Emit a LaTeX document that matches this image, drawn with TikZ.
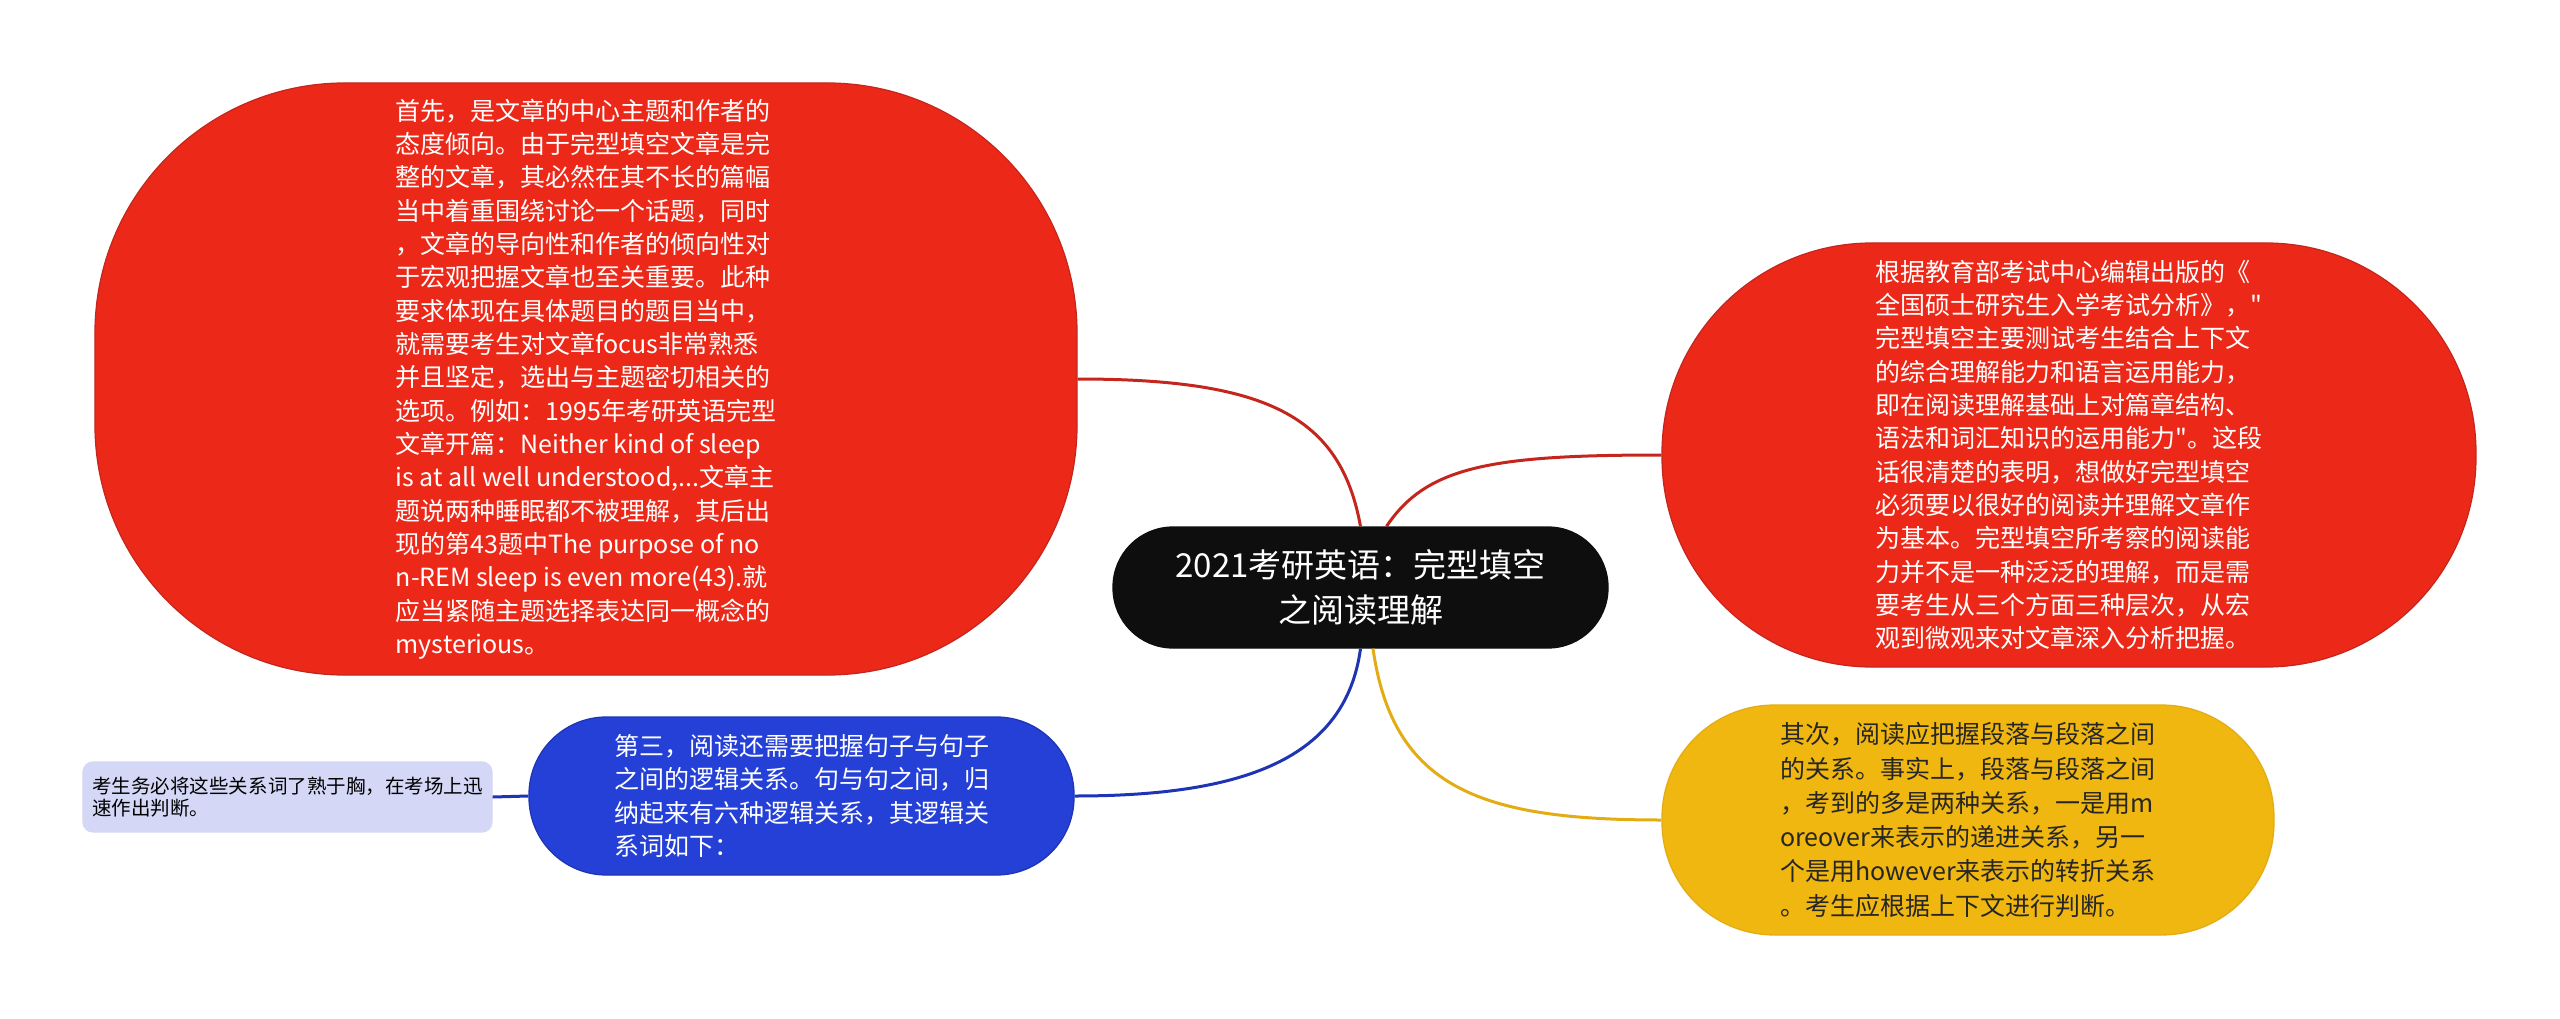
\documentclass[tikz,border=0pt]{standalone}
\usepackage{fontspec}
\setmainfont{Noto Sans CJK SC}
\definecolor{redfill}{RGB}{236,41,25}
\definecolor{redline}{RGB}{196,38,30}
\definecolor{bluefill}{RGB}{36,64,214}
\definecolor{blueline}{RGB}{30,52,180}
\definecolor{yelfill}{RGB}{240,183,16}
\definecolor{yelline}{RGB}{228,172,20}
\definecolor{lavfill}{RGB}{212,216,246}
\definecolor{centfill}{RGB}{14,14,14}
\font\plainqfont="Noto Sans CJK SC" at 10pt
\newcommand{\dq}{{\plainqfont\char34}}
\tikzset{
  bubble/.style={draw, rectangle, inner sep=0pt, line width=0.5pt},
  bodytext/.style={align=left, font=\fontsize{10pt}{13.33pt}\selectfont},
  conn/.style={line width=1.2pt},
}
\begin{document}
\begin{tikzpicture}[x=0.4pt,y=-0.4pt]
\useasboundingbox (0,0) rectangle (2560,1019);

% central node
\node[bubble, fill=centfill, draw=centfill, text=white, rounded corners=24pt,
      minimum width=198pt, minimum height=48.4pt, align=center,
      font=\fontsize{13.2pt}{18pt}\selectfont] (C) at (1360.5,587.5)
  {2021考研英语：完型填空\\之阅读理解};

% left red
\node[bubble, bodytext, fill=redfill, draw=redline, text=white, rounded corners=100pt,
      minimum width=392.8pt, minimum height=236.8pt] (L) at (586,379)
  {首先，是文章的中心主题和作者的\\
   态度倾向。由于完型填空文章是完\\
   整的文章，其必然在其不长的篇幅\\
   当中着重围绕讨论一个话题，同时\\
   ，文章的导向性和作者的倾向性对\\
   于宏观把握文章也至关重要。此种\\
   要求体现在具体题目的题目当中，\\
   就需要考生对文章focus非常熟悉\\
   并且坚定，选出与主题密切相关的\\
   选项。例如：1995年考研英语完型\\
   文章开篇：Neither kind of sleep\\
   is at all well understood,...文章主\\
   题说两种睡眠都不被理解，其后出\\
   现的第43题中The purpose of no\\
   n-REM sleep is even more(43).就\\
   应当紧随主题选择表达同一概念的\\
   mysterious。};

% right red
\node[bubble, bodytext, fill=redfill, draw=redline, text=white, rounded corners=84pt,
      minimum width=325.6pt, minimum height=169.6pt] (R) at (2069,455)
  {根据教育部考试中心编辑出版的《\\
   全国硕士研究生入学考试分析》，\dq\\
   完型填空主要测试考生结合上下文\\
   的综合理解能力和语言运用能力，\\
   即在阅读理解基础上对篇章结构、\\
   语法和词汇知识的运用能力\dq。这段\\
   话很清楚的表明，想做好完型填空\\
   必须要以很好的阅读并理解文章作\\
   为基本。完型填空所考察的阅读能\\
   力并不是一种泛泛的理解，而是需\\
   要考生从三个方面三种层次，从宏\\
   观到微观来对文章深入分析把握。};

% yellow
\node[bubble, align=left, font=\fontsize{10pt}{13.7pt}\selectfont,
      fill=yelfill, draw=yelline, text=black!85, rounded corners=45pt,
      minimum width=244.8pt, minimum height=92pt] (Y) at (1968,820)
  {其次，阅读应把握段落与段落之间\\
   的关系。事实上，段落与段落之间\\
   ，考到的多是两种关系，一是用m\\
   oreover来表示的递进关系，另一\\
   个是用however来表示的转折关系\\
   。考生应根据上下文进行判断。};

% blue
\node[bubble, bodytext, fill=bluefill, draw=blueline, text=white, rounded corners=31pt,
      minimum width=218pt, minimum height=63.2pt] (B) at (801.5,796)
  {第三，阅读还需要把握句子与句子\\
   之间的逻辑关系。句与句之间，归\\
   纳起来有六种逻辑关系，其逻辑关\\
   系词如下：};

% lavender
\node[bubble, align=left, font=\fontsize{7.8pt}{8.7pt}\selectfont,
      fill=lavfill, draw=lavfill, text=black, rounded corners=4pt,
      minimum width=163.6pt, minimum height=28pt] (V) at (287.5,797)
  {考生务必将这些关系词了熟于胸，在考场上迅\\
   速作出判断。};

% connectors
\draw[conn, redline] (C.north) .. controls +(-20,-110) and +(190,0) .. (L.east);
\draw[conn, redline] ([xshift=10.4pt]C.north) .. controls +(40,-60) and +(-170,0) .. (R.west);
\draw[conn, blueline] (C.south) .. controls +(-15,110) and +(170,0) .. (B.east);
\draw[conn, yelline] ([xshift=5pt]C.south) .. controls +(20,140) and +(-180,0) .. (Y.west);
\draw[conn, blueline] (V.east) -- (B.west);
\end{tikzpicture}
\end{document}
